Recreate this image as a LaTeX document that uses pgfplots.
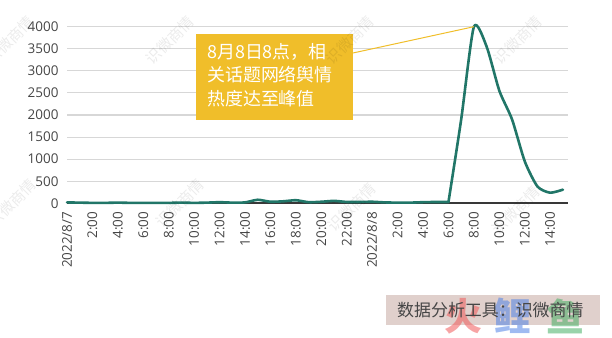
\documentclass[border=0pt]{standalone}
\usepackage{fontspec}
\setmainfont{Open Sans}
\newfontfamily\cjk{Noto Sans CJK SC}
\usepackage{pgfplots}
\pgfplotsset{compat=1.18}
\definecolor{linec}{RGB}{33,118,104}
\definecolor{boxc}{RGB}{240,190,42}
\definecolor{gridc}{RGB}{215,215,215}
\definecolor{labc}{RGB}{70,70,70}
\definecolor{srcbg}{RGB}{224,208,204}
\begin{document}
\begin{tikzpicture}[x=1bp,y=1bp]
\path[use as bounding box] (0bp,0bp) rectangle (612bp,338bp);
\begin{axis}[
  at={(67bp,134.7bp)}, anchor=south west,
  scale only axis, width=501bp, height=176.6bp,
  xmin=0, xmax=39.4, ymin=0, ymax=4000,
  clip=false,
  axis line style={draw=none},
  major tick length=0pt,
  ymajorgrids, grid style={gridc, line width=1.1bp},
  ytick={0,500,...,4000},
  extra y ticks={0}, extra y tick labels={},
  extra y tick style={grid style={draw=black!78, line width=2bp}},
  /pgf/number format/assume math mode=true,
  /pgf/number format/1000 sep={},
  yticklabel style={text=labc, font=\fontsize{13.5}{13.5}\selectfont},
  yticklabel shift=5bp,
  xtick={0,2,...,38},
  xticklabels={2022/8/7,2:00,4:00,6:00,8:00,10:00,12:00,14:00,16:00,18:00,20:00,22:00,2022/8/8,2:00,4:00,6:00,8:00,10:00,12:00,14:00},
  xticklabel style={rotate=90, anchor=east, text=labc, font=\fontsize{13.5}{13.5}\selectfont},
  xticklabel shift=5bp,
]
\addplot[linec, line width=2.6bp, smooth, tension=0.35, line cap=round] coordinates {
(0,20) (1,15) (2,10) (3,10) (4,15) (5,10) (6,10) (7,10) (8,10) (9,15)
(10,10) (11,15) (12,25) (13,15) (14,20) (15,80) (16,35) (17,45) (18,70) (19,25)
(20,35) (21,55) (22,30) (23,30) (24,35) (25,20) (26,15) (27,15) (28,25) (29,30)
(30,30)
};
\addplot[linec, line width=2.6bp, smooth, tension=0.4, line cap=round, line join=round] coordinates {
(30,30) (31,1900) (32,4000) (33,3550) (34,2550) (35,1900) (36,950) (37,380) (38,240) (39,310)
};
\coordinate (pk) at (axis cs:32,4000);
\end{axis}
% annotation
\fill[boxc] (196bp,218bp) rectangle (353bp,304bp);
\draw[boxc, line width=1bp] (353bp,285bp) -- (pk);
\begin{scope}[every node/.style={anchor=base west, inner sep=0pt, text=white, font=\cjk\fontsize{18}{18}\selectfont}]
\node at (207bp,279.5bp) {8月8日8点，相};
\node at (207bp,256bp) {关话题网络舆情};
\node at (207bp,232.5bp) {热度达至峰值};
\end{scope}
% source box
\fill[srcbg] (386bp,13bp) rectangle (600bp,43bp);
\begin{scope}[every node/.style={inner sep=0pt, opacity=0.55, font=\cjk\bfseries\fontsize{38}{38}\selectfont}]
\node[text={rgb,255:red,240;green,90;blue,90}] at (463bp,22bp) {火};
\node[text={rgb,255:red,80;green,130;blue,230}] at (512bp,22bp) {鲤};
\node[text={rgb,255:red,70;green,175;blue,100}] at (565bp,22bp) {鱼};
\end{scope}
\node[anchor=west, inner sep=0pt, text=labc, font=\cjk\fontsize{17}{17}\selectfont] at (397bp,28bp) {数据分析工具：识微商情};
% watermarks
\foreach \x/\y in {10/40,170/40,350/40,518/40,12/203,180/203,352/207,516/210}{
  \node[rotate=45, text=black, opacity=0.08, font=\cjk\fontsize{15}{15}\selectfont] at (\x bp,338bp-\y bp) {识微商情};
}
\end{tikzpicture}
\end{document}
